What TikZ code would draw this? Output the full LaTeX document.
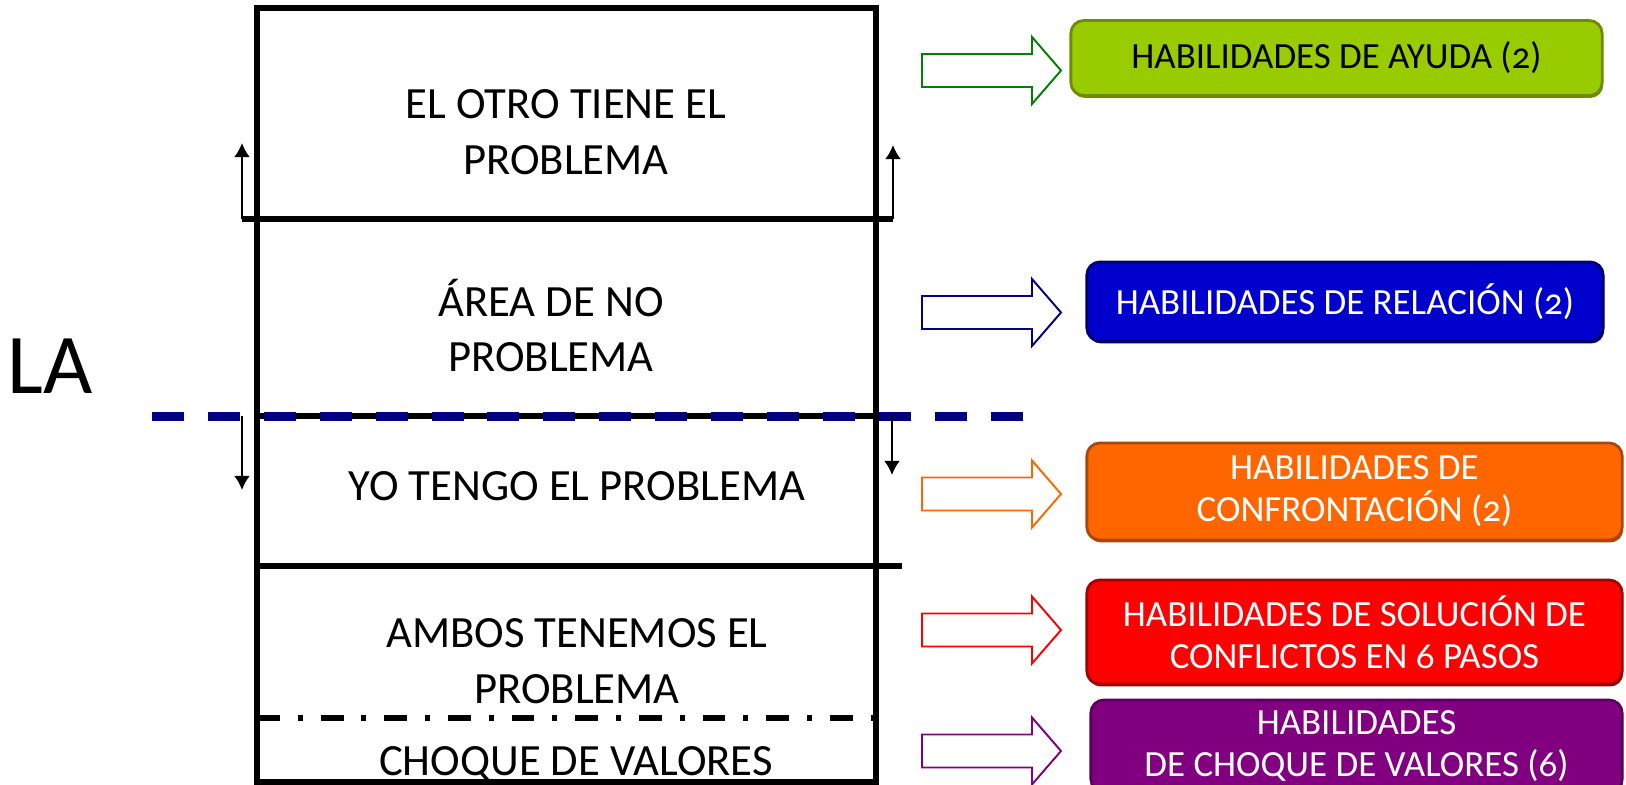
\documentclass[tikz,border=0pt]{standalone}
\usepackage{fontspec}
\setmainfont{Carlito}
\newfontfamily\skillfont[Numbers=OldStyle]{Carlito}
\usetikzlibrary{arrows.meta, shadows}
\definecolor{ayuda}{RGB}{153,204,0}
\definecolor{ayudaD}{RGB}{110,140,0}
\definecolor{relacion}{RGB}{0,0,204}
\definecolor{relacionD}{RGB}{0,0,110}
\definecolor{confronta}{RGB}{255,102,0}
\definecolor{confrontaD}{RGB}{170,70,10}
\definecolor{solucion}{RGB}{255,0,0}
\definecolor{solucionD}{RGB}{160,0,0}
\definecolor{valores}{RGB}{128,0,128}
\definecolor{valoresD}{RGB}{90,0,90}
\definecolor{verde}{RGB}{0,128,0}
\definecolor{marino}{RGB}{0,0,128}
\tikzstyle{zone} = [align=center, inner sep=0pt, font=\fontsize{12.7pt}{15.9pt}\selectfont]
\tikzstyle{skill} = [rectangle, rounded corners=3.7pt, align=center, inner sep=0pt, line width=0.8pt, text=white, font=\skillfont\fontsize{10.5pt}{11.95pt}\selectfont]
\tikzstyle{frame} = [line width=1.5pt]
\tikzstyle{arrow} = [line width=0.57pt, -{Latex[length=4pt,width=4.5pt]}]
\tikzstyle{limit} = [line width=2.28pt, marino, dash pattern=on 9.1pt off 6.8pt]
\tikzstyle{choque} = [line width=1.7pt, dash pattern=on 6.5pt off 5.1pt on 1.4pt off 5.1pt]
\tikzstyle{bigarrow} = [line width=0.55pt, fill=white]
\begin{document}
\begin{tikzpicture}[x=0.01cm, y=-0.01cm]
\useasboundingbox (0,0) rectangle (1626,785);
\clip (0,0) rectangle (1626,785);
% the zones
\draw [frame] (257,8) rectangle (876,782);
\coordinate (d1L) at (242,219);
\coordinate (d1R) at (893,219);
\coordinate (upL) at (242,143);
\coordinate (upR) at (893,145);
\draw [frame] (d1L) -- (d1R);
\draw [arrow] (d1L) -- (upL);
\draw [arrow] (d1R) -- (upR);
\coordinate (d2L) at (257,416);
\coordinate (d2R) at (876,416);
\coordinate (limL) at (152,416.5);
\coordinate (limR) at (1027,416.5);
\coordinate (downL) at (242,490);
\coordinate (downR) at (892,475);
\draw [frame] (d2L) -- (d2R);
\draw [limit] (limL) -- (limR);
\draw [arrow] (242,416) coordinate (startL) -- (downL);
\draw [arrow] (892,416) coordinate (startR) -- (downR);
\coordinate (d3L) at (257,566);
\coordinate (d3R) at (902,566);
\draw [frame] (d3L) -- (d3R);
\coordinate (d4L) at (257,718);
\coordinate (d4R) at (876,718);
\draw [choque] (d4L) -- (d4R);
\node (otro) [zone] at (566,132) {EL OTRO TIENE EL\\PROBLEMA};
\node (area) [zone] at (551,325.5) {ÁREA DE NO\\PROBLEMA};
\node (yo) [zone, anchor=base] at (577,500.3) {YO TENGO EL PROBLEMA};
\node (ambos) [zone] at (577,661) {AMBOS TENEMOS EL\\PROBLEMA};
\node (choqueV) [zone, anchor=base] at (576,775.8) {CHOQUE DE VALORES};
\node (la) [font=\fontsize{24.2pt}{29pt}\selectfont] at (50,366.5) {LA};
% the skills
\foreach \y/\c in {70.5/verde, 312.5/marino, 494/confronta, 630/solucion, 751/valores}
  \draw [bigarrow, draw=\c] (922,\y-16.5) -- (1032,\y-16.5) -- (1032,\y-33.5) -- (1061,\y) -- (1032,\y+33.5) -- (1032,\y+16.5) -- (922,\y+16.5) -- cycle;
\node (ayudaB) [skill, fill=ayuda, draw=ayudaD, text=black, drop shadow={fill=ayudaD, opacity=1, shadow xshift=0.3pt, shadow yshift=-0.7pt}, minimum width=5.31cm, minimum height=0.75cm] at (1336.5,58) {HABILIDADES DE AYUDA (2)};
\node (relacionB) [skill, fill=relacion, draw=relacionD, drop shadow={fill=relacionD, opacity=1, shadow xshift=0.3pt, shadow yshift=-0.7pt}, minimum width=5.16cm, minimum height=0.79cm] at (1345,301.5) {HABILIDADES DE RELACIÓN (2)};
\node (confrontaB) [skill, fill=confronta, draw=confrontaD, drop shadow={fill=confrontaD, opacity=1, shadow xshift=0.3pt, shadow yshift=-0.7pt}, minimum width=5.35cm, minimum height=0.97cm] at (1354.5,491.5) {HABILIDADES DE\\CONFRONTACIÓN (2)};
\node (solucionB) [skill, fill=solucion, draw=solucionD, drop shadow={fill=solucionD, opacity=1, shadow xshift=0.3pt, shadow yshift=-0.7pt}, minimum width=5.35cm, minimum height=1.04cm] at (1354.5,632) {HABILIDADES DE SOLUCIÓN DE\\CONFLICTOS EN 6 PASOS};
\node (valoresB) [skill, fill=valores, draw=valoresD, drop shadow={fill=valoresD, opacity=1, shadow xshift=0.3pt, shadow yshift=-0.7pt}, minimum width=5.31cm, minimum height=0.92cm] at (1356.5,746) {HABILIDADES\\DE CHOQUE DE VALORES (6)};
\end{tikzpicture}
\end{document}
